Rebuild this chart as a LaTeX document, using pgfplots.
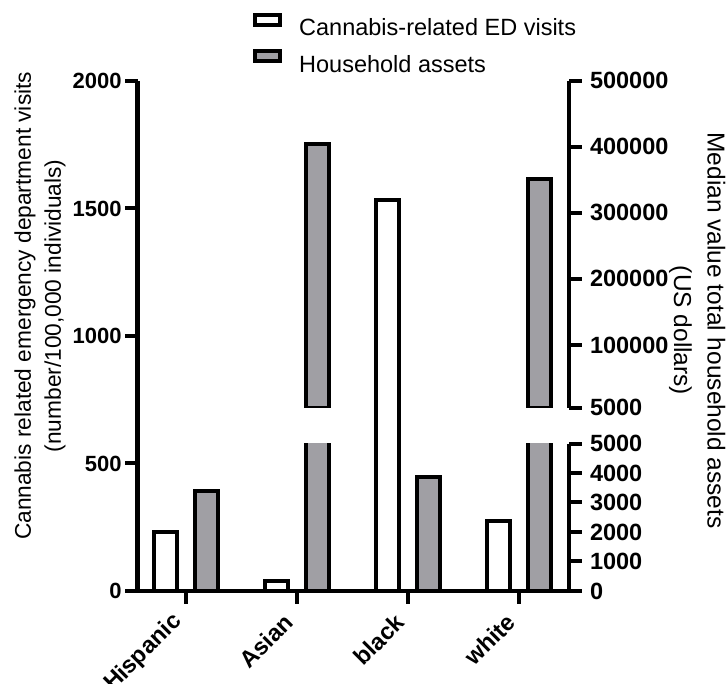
\documentclass[border=0pt]{standalone}
\usepackage{fontspec}
\setmainfont{Liberation Sans}
\usepackage{pgfplots}
\pgfplotsset{compat=1.18}
\definecolor{assetgray}{RGB}{160,159,164}

\newcommand{\tickfont}{\fontsize{23.5bp}{28bp}\selectfont\bfseries}
\newcommand{\lefttickfont}{\fontsize{22bp}{26bp}\selectfont\bfseries}
\newcommand{\leftlabelfont}{\fontsize{22.7bp}{30bp}\selectfont}
\newcommand{\rightlabelfont}{\fontsize{24.5bp}{33.5bp}\selectfont}
\newcommand{\legendfont}{\fontsize{23.5bp}{28bp}\selectfont}

% Emergency-department visits per 100,000 (left scale)
\pgfplotstableread{
x visits
0 230
1 40
2 1535
3 275
}\visits
% Median total household assets in US dollars (broken right scale)
\pgfplotstableread{
x assets
0 3380
1 404000
2 3860
3 351000
}\assets

\pgfplotsset{
  common/.style={
    scale only axis, width=431.3bp,
    xmin=-0.435, xmax=3.45,
    tick align=outside,
    major tick length=12.5bp,
    axis line style={line width=4.5bp, -},
    major tick style={line width=4bp, black},
    /pgf/number format/fixed,
    /pgf/number format/precision=0,
    /pgf/number format/assume math mode=true,
    /pgf/number format/1000 sep={},
    scaled y ticks=false,
    ticklabel style={font=\tickfont},
    ybar, bar width=23bp,
  },
  rightscale/.style={
    axis x line=none, axis y line*=right, xtick=\empty,
    yticklabel style={xshift=5bp},
  },
}

\begin{document}
\begin{tikzpicture}
\path[use as bounding box] (0bp,0bp) rectangle (726bp,684bp);

% left scale with the white bars, the category axis and the legend
\begin{axis}[common, at={(137.7bp,93bp)}, anchor=south west, height=510bp,
  axis x line*=bottom, axis y line*=left,
  ymin=0, ymax=2000, ytick={0,500,1000,1500,2000},
  yticklabel style={font=\lefttickfont},
  xtick={0,1,2,3}, xticklabels={Hispanic,Asian,black,white},
  xticklabel style={xshift=-7.8bp, yshift=-14.8bp, rotate=45, anchor=east, inner sep=0pt},
  ylabel={Cannabis related emergency department visits\\(number/100,000 individuals)},
  every axis y label/.style={at={(axis description cs:-0.2265,0.559)},
    rotate=90, anchor=center, align=center, font=\leftlabelfont},
  legend style={draw=none, fill=none, at={(axis description cs:0.2673,1.1333)},
    anchor=north west, font=\legendfont, row sep=10bp, column sep=15bp,
    inner sep=0pt, legend cell align=left},
]
\addplot[fill=white, draw=black, line width=4bp, bar shift=-20.75bp, forget plot]
  table[x=x, y=visits] {\visits};
\addlegendimage{legend image code/.code={\draw[fill=white, line width=4bp] (0bp,3bp) rectangle (25bp,13bp);}}
\addlegendentry{Cannabis-related ED visits}
\addlegendimage{legend image code/.code={\draw[fill=assetgray, line width=4bp] (0bp,3bp) rectangle (25bp,13bp);}}
\addlegendentry{Household assets}
\end{axis}

% lower segment of the right scale: 0 to 5000
\begin{axis}[common, rightscale, at={(137.7bp,93bp)}, anchor=south west, height=147.5bp,
  ymin=0, ymax=5000, ytick={0,1000,2000,3000,4000,5000},
]
\addplot[fill=assetgray, draw=black, line width=4bp, bar shift=20.75bp]
  table[x=x, y=assets] {\assets};
\end{axis}

% upper segment of the right scale: 5000 to 500000
\begin{axis}[common, rightscale, at={(137.7bp,276.3bp)}, anchor=south west, height=327bp,
  ymin=5000, ymax=500000, ytick={5000,100000,200000,300000,400000,500000},
  ylabel={Median value total household assets\\(US dollars)},
  every axis y label/.style={at={(axis description cs:1.2975,0.236)},
    rotate=-90, anchor=center, align=center, font=\rightlabelfont},
]
\addplot[fill=assetgray, draw=black, line width=4bp, bar shift=20.75bp,
  restrict y to domain=5000:1000000]
  table[x=x, y=assets] {\assets};
\end{axis}
\end{tikzpicture}
\end{document}
